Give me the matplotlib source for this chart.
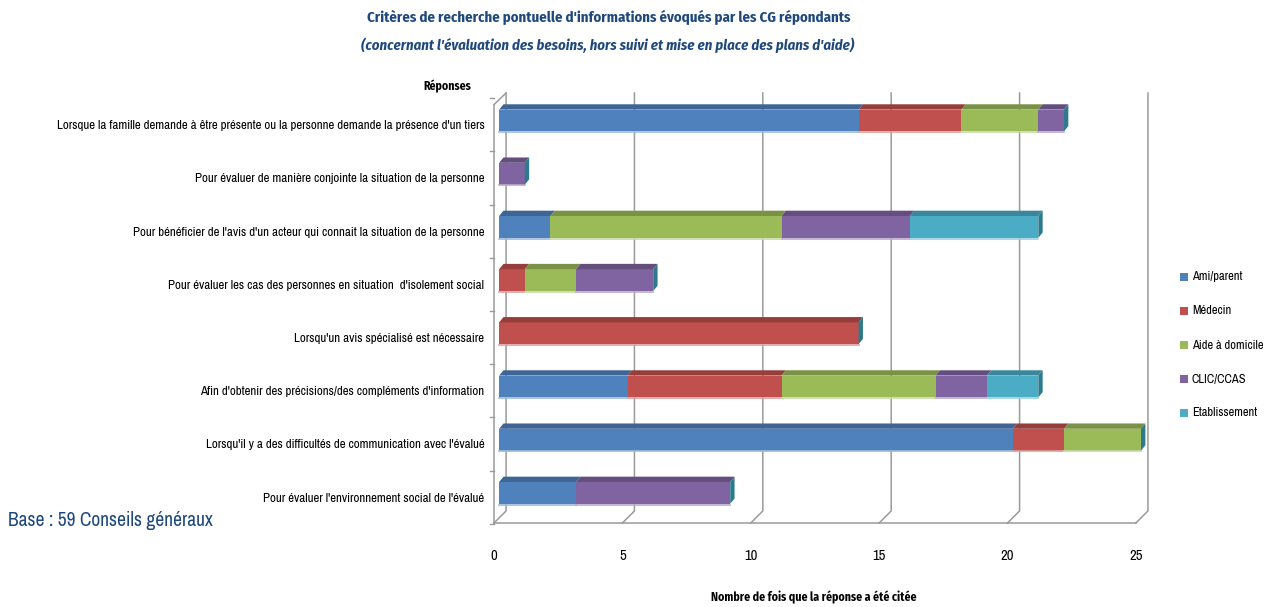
"""
    Barres horizontales empilées (effet 3D) : critères de recherche ponctuelle
"""

import matplotlib
matplotlib.use("Agg")
import matplotlib.pyplot as plt
from matplotlib.patches import Polygon, Rectangle
from matplotlib.colors import to_rgb

plt.rcParams['font.family'] = ['Archivo Narrow', 'DejaVu Sans']
GRAS = ['Fira Sans Condensed', 'DejaVu Sans']

reponses = [
    "Lorsque la famille demande à être présente ou la personne demande la présence d'un tiers",
    "Pour évaluer de manière conjointe la situation de la personne",
    "Pour bénéficier de l'avis d'un acteur qui connait la situation de la personne",
    "Pour évaluer les cas des personnes en situation  d'isolement social",
    "Lorsqu'un avis spécialisé est nécessaire",
    "Afin d'obtenir des précisions/des compléments d'information",
    "Lorsqu'il y a des difficultés de communication avec l'évalué",
    "Pour évaluer l'environnement social de l'évalué",
]
series = ["Ami/parent", "Médecin", "Aide à domicile", "CLIC/CCAS", "Etablissement"]
ami_parent = [14, 0, 2, 0, 0, 5, 20, 3]
medecin = [4, 0, 0, 1, 14, 6, 2, 0]
aide_domicile = [3, 0, 9, 2, 0, 6, 3, 0]
clic_ccas = [1, 1, 5, 3, 0, 2, 0, 6]
etablissement = [0, 0, 5, 0, 0, 2, 0, 0]
valeurs = [ami_parent, medecin, aide_domicile, clic_ccas, etablissement]
couleurs = ["#4F81BD", "#C0504D", "#9BBB59", "#8064A2", "#4BACC6"]
graduations = [0, 5, 10, 15, 20, 25]

BLEU_TITRE = "#1F497D"
GRILLE = "#9a9a9a"


def assombrir(c, f=0.78):
    r, g, b = to_rgb(c)
    return (r * f, g * f, b * f)


def eclaircir(c, f=0.45):
    r, g, b = to_rgb(c)
    return (r + (1 - r) * f, g + (1 - g) * f, b + (1 - b) * f)


fig = plt.figure(figsize=(12.67, 6.07), dpi=100)
ax = fig.add_axes([494 / 1267, 1 - 523 / 607, 656 / 1267, 430 / 607])
ax.set_xlim(-0.195, 25.35)
ax.set_ylim(7.566, -0.517)
for s in ax.spines.values():
    s.set_visible(False)

AV = -0.2   # décalage de la face avant (sol)
AR = 0.27   # décalage du mur du fond
Y_FOND = 7.34
Y_SOL = 7.566

# grille : mur du fond puis sol en perspective
for v in graduations:
    ax.plot([v + AR, v + AR, v + AV], [-0.517, Y_FOND, Y_SOL], color=GRILLE, lw=1.1,
            zorder=1, clip_on=False)
ax.plot([AV, 25 + AV], [Y_SOL, Y_SOL], color=GRILLE, lw=1.1, zorder=1, clip_on=False)
ax.plot([AV, AV], [-0.3, Y_SOL], color=GRILLE, lw=1.1, zorder=1, clip_on=False)
ax.plot([AV, AR], [-0.3, -0.517], color=GRILLE, lw=1.1, zorder=1, clip_on=False)
for i in range(len(reponses) + 1):
    ax.plot([AV - 0.15, AV], [i - 0.42, i - 0.42], color=GRILLE, lw=1.0, clip_on=False)

# barres empilées avec faces supérieure et latérale
h = 0.205
dx, dy = 0.17, 0.1
for i in range(len(reponses)):
    gauche = 0
    for k, serie in enumerate(valeurs):
        w = serie[i]
        if w == 0:
            continue
        ax.add_patch(Rectangle((gauche, i - h), w, 2 * h, facecolor=couleurs[k],
                               edgecolor="none", zorder=3))
        ax.add_patch(Polygon([(gauche, i - h), (gauche + w, i - h),
                              (gauche + w + dx, i - h - dy), (gauche + dx, i - h - dy)],
                             closed=True, facecolor=assombrir(couleurs[k]),
                             edgecolor="none", zorder=3))
        ax.plot([gauche, gauche + w], [i + h + 0.015, i + h + 0.015],
                color=eclaircir(couleurs[k]), lw=1.2, zorder=3)
        gauche += w
    ax.add_patch(Polygon([(gauche, i - h), (gauche + dx, i - h - dy),
                          (gauche + dx, i + h - dy), (gauche, i + h)],
                         closed=True, facecolor="#2C7A8C", edgecolor="none", zorder=3))

ax.set_yticks([i + 0.08 for i in range(len(reponses))])
ax.set_yticklabels(reponses, fontsize=9.3)
ax.tick_params(axis="y", length=0, pad=7)
ax.set_xticks([v + AV for v in graduations])
ax.set_xticklabels([str(v) for v in graduations], fontsize=10.5)
ax.tick_params(axis="x", length=0, pad=19)

ax.set_xlabel("Nombre de fois que la réponse a été citée", fontsize=8.5, fontweight="bold",
              family=GRAS)
ax.xaxis.set_label_coords(0.487, -0.157)

fig.text(447 / 1267, 1 - 86 / 607, "Réponses", fontsize=8.5, fontweight="bold",
         family=GRAS, ha="center", va="center")
fig.text(609 / 1267, 1 - 17 / 607,
         "Critères de recherche pontuelle d'informations évoqués par les CG répondants",
         fontsize=10.6, fontweight="bold", family=GRAS, color=BLEU_TITRE,
         ha="center", va="center")
fig.text(608 / 1267, 1 - 45 / 607,
         "(concernant l'évaluation des besoins, hors suivi et mise en place des plans d'aide)",
         fontsize=10.6, fontweight="bold", style="italic", family=GRAS, color=BLEU_TITRE,
         ha="center", va="center")
fig.text(8 / 1267, 1 - 521 / 607, "Base : 59 Conseils généraux", fontsize=14,
         color=BLEU_TITRE, ha="left", va="center")

# légende
for k, nom in enumerate(series):
    y = 1 - (277 + 34 * k) / 607
    fig.patches.append(Rectangle((1180 / 1267, y - 4 / 607), 8 / 1267, 8 / 607,
                                 facecolor=couleurs[k], edgecolor="none",
                                 transform=fig.transFigure, figure=fig))
    fig.text(1192 / 1267, y, nom, fontsize=9, ha="left", va="center")

fig.savefig("out.png", dpi=100)
